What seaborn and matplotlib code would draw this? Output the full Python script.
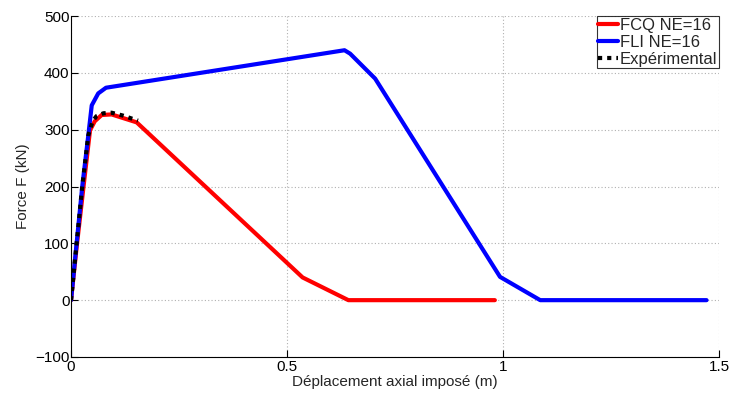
import matplotlib
matplotlib.use("Agg")
import matplotlib.pyplot as plt
import seaborn as sns
import pandas as pd

# Data
fcq_x = [0.0, 0.014, 0.029, 0.044, 0.055, 0.071, 0.094, 0.152, 0.536, 0.642, 0.981]
fcq_y = [0, 100, 200, 299, 315, 326, 327, 313, 40, 0, 0]

fli_x = [0.0, 0.013, 0.026, 0.040, 0.048, 0.063, 0.081, 0.633, 0.646, 0.704, 0.993, 1.086, 1.471]
fli_y = [0, 100, 200, 290, 343, 364, 374, 440, 434, 390, 41, 0, 0]

exp_x = [0.0, 0.013, 0.026, 0.040, 0.050, 0.059, 0.075, 0.094, 0.120, 0.155]
exp_y = [0, 100, 200, 290, 315, 324, 329, 330, 325, 316]

labels = ["FCQ NE=16", "FLI NE=16", "Expérimental"]
xticks = [0, 0.5, 1, 1.5]
xtick_labels = ["0", "0.5", "1", "1.5"]
yticks = [-100, 0, 100, 200, 300, 400, 500]
ytick_labels = ["\u2212100", "0", "100", "200", "300", "400", "500"]

sns.set_style("white")
plt.rcParams["font.family"] = ["Liberation Sans", "DejaVu Sans"]

fig = plt.figure(figsize=(7.29, 3.94), dpi=100)
ax = fig.add_axes([0.0974, 0.094, 0.889, 0.865])

df_fcq = pd.DataFrame({"x": fcq_x, "y": fcq_y})
df_fli = pd.DataFrame({"x": fli_x, "y": fli_y})
df_exp = pd.DataFrame({"x": exp_x, "y": exp_y})

sns.lineplot(data=df_fcq, x="x", y="y", sort=False, ax=ax, color="#ff0000",
             linewidth=3, label=labels[0], estimator=None)
sns.lineplot(data=df_fli, x="x", y="y", sort=False, ax=ax, color="#0000ff",
             linewidth=3, label=labels[1], estimator=None)
sns.lineplot(data=df_exp, x="x", y="y", sort=False, ax=ax, color="black",
             linewidth=3, label=labels[2], estimator=None, linestyle=(0, (1, 1.2)))

ax.set_xlim(0, 1.5)
ax.set_ylim(-100, 500)
ax.set_xticks(xticks)
ax.set_xticklabels(xtick_labels)
ax.set_yticks(yticks)
ax.set_yticklabels(ytick_labels)
ax.grid(True, color="#b0b0b0", linestyle=(0, (1, 2)), linewidth=0.8)

for s in ["top", "right"]:
    ax.spines[s].set_visible(False)
for s in ["left", "bottom"]:
    ax.spines[s].set_color("black")
    ax.spines[s].set_linewidth(0.8)

ax.tick_params(axis="both", direction="in", length=5, width=0.8, labelsize=11,
               colors="black", left=True, bottom=True)
ax.tick_params(axis="x", pad=2)
ax.tick_params(axis="y", pad=1)

ax.set_xlabel("Déplacement axial imposé (m)", fontsize=11, labelpad=1)
ax.set_ylabel("Force F (kN)", fontsize=11, labelpad=4)

leg = ax.legend(loc="upper right", fontsize=12, frameon=True, fancybox=False,
                handlelength=1.2, handletextpad=0.1, borderpad=0.1,
                labelspacing=0.12, borderaxespad=0.0)
leg.get_frame().set_edgecolor("black")
leg.get_frame().set_linewidth(0.8)

fig.savefig("out.png", dpi=100)
